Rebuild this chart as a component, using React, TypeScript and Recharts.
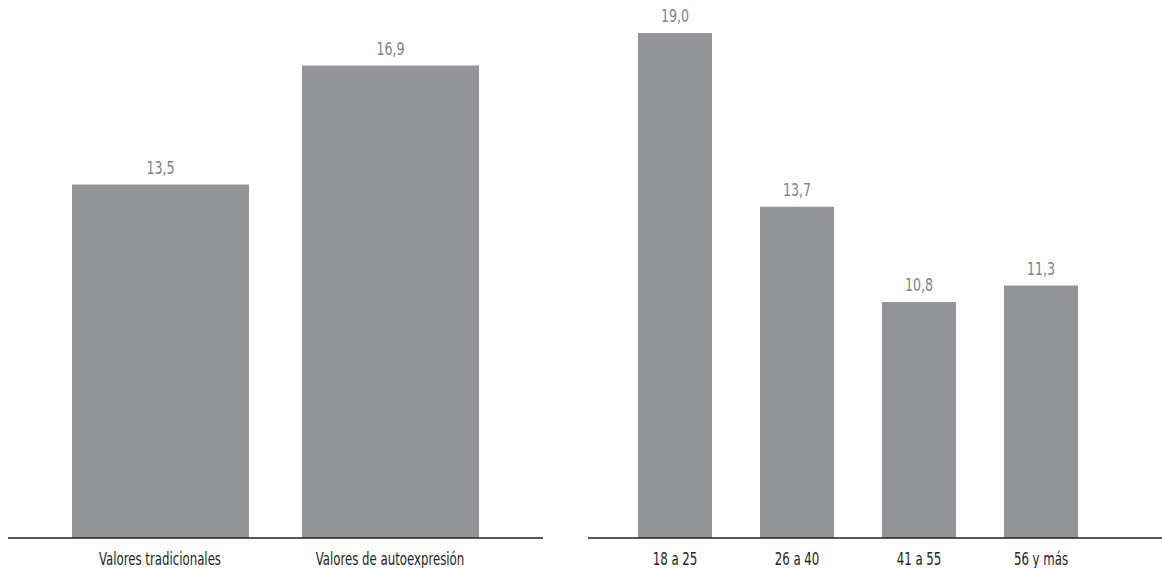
import React from 'react';
import { BarChart, Bar, XAxis, YAxis, LabelList } from 'recharts';

const valueTypes = ['Valores tradicionales', 'Valores de autoexpresión'];
const valueTypeShares = [13.5, 16.9];

const ageGroups = ['18 a 25', '26 a 40', '41 a 55', '56 y más'];
const ageGroupShares = [19.0, 13.7, 10.8, 11.3];

const FONT = '"DejaVu Sans Condensed", "Liberation Sans", sans-serif';
const BAR_COLOR = '#939598';
const AXIS_COLOR = '#231f20';
const LABEL_COLOR = '#808285';

const formatValue = (v: any) => Number(v).toFixed(1).replace('.', ',');

const leftData = valueTypes.map((name, i) => ({ name, value: valueTypeShares[i] }));
const rightData = ageGroups.map((name, i) => ({ name, value: ageGroupShares[i] }));

// condensed look: squeeze the text horizontally
const CategoryTick = (props: any) => {
  const { x, y, payload } = props;
  return (
    <g transform={`translate(${x},${y})`}>
      <text
        transform="scale(0.77,1)"
        textAnchor="middle"
        y={19}
        fill={AXIS_COLOR}
        fontSize={17}
        fontFamily={FONT}
      >
        {payload.value}
      </text>
    </g>
  );
};

const ValueLabel = (props: any) => {
  const { x, y, width, value } = props;
  return (
    <g transform={`translate(${x + width / 2},${y - 11})`}>
      <text transform="scale(0.78,1)" textAnchor="middle" fill={LABEL_COLOR} fontSize={18} fontFamily={FONT}>
        {formatValue(value)}
      </text>
    </g>
  );
};

interface PanelProps {
  data: { name: string; value: number }[];
  left: number;
  width: number;
  margin: { top: number; right: number; bottom: number; left: number };
  padding: { left: number; right: number };
  domain: [number, number];
  barSize: number;
}

function Panel({ data, left, width, margin, padding, domain, barSize }: PanelProps) {
  return (
    <div style={{ position: 'absolute', left, top: 0 }}>
      <BarChart width={width} height={568} data={data} margin={margin}>
        <XAxis
          dataKey="name"
          padding={padding}
          axisLine={{ stroke: AXIS_COLOR, strokeWidth: 1.6 }}
          tickLine={false}
          interval={0}
          tick={<CategoryTick />}
          height={30}
        />
        <YAxis hide domain={domain} allowDataOverflow />
        <Bar dataKey="value" fill={BAR_COLOR} barSize={barSize} isAnimationActive={false}>
          <LabelList dataKey="value" content={<ValueLabel />} />
        </Bar>
      </BarChart>
    </div>
  );
}

export default function App() {
  return (
    <div style={{ position: 'absolute', left: 0, top: 0, width: 1162, height: 568 }}>
      <Panel
        data={leftData}
        left={0}
        width={560}
        margin={{ top: 20, right: 17, bottom: 0, left: 8 }}
        padding={{ left: 37, right: 38 }}
        domain={[3.4, 18.2]}
        barSize={177}
      />
      <Panel
        data={rightData}
        left={578}
        width={584}
        margin={{ top: 20, right: 0, bottom: 0, left: 10 }}
        padding={{ left: 26, right: 60 }}
        domain={[3.6, 19.4]}
        barSize={74}
      />
    </div>
  );
}
